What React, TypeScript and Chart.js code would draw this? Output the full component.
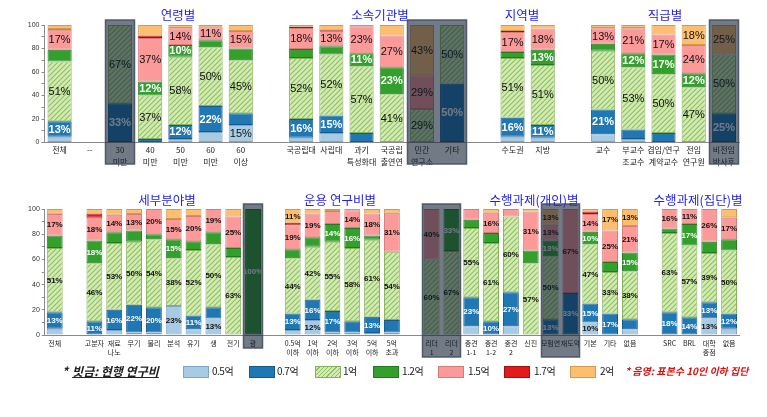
import React, { useEffect, useRef } from "react";
import { Chart, registerables } from "chart.js";
Chart.register(...registerables);

// ---------- series ----------
const seriesNames = ["0.5억", "0.7억", "1억", "1.2억", "1.5억", "1.7억", "2억"];
const seriesColors = ["#a6cbe3", "#1f78b4", "hatch", "#33a02c", "#fb9a99", "#e31a1c", "#fdbf6f"];
const seriesBorders = ["#7ea6c4", "#17598a", "#86b35a", "#237a20", "#d77b7a", "#a01010", "#d39a4e"];
const labelColors = ["#111", "#fff", "#111", "#fff", "#111", "#fff", "#111"];

// ---------- top panel ----------
const topCats: (string | string[])[] = [
  "전체", "--", ["30", "미만"], ["40", "미만"], ["50", "미만"], ["60", "미만"], ["60", "이상"], "",
  "국공립대", "사립대", ["과기", "특성화대"], ["국공립", "출연연"], ["민간", "연구소"], "기타", "",
  "수도권", "지방", "",
  "교수", ["부교수", "조교수"], ["겸임/연구", "계약교수"], ["전임", "연구원"], ["비전임", "박사후"],
];
const top05 = [5, null, 0, 0, 3, 9, 15, null, 4, 8, 0, 0, 0, 0, null, 5, 4, null, 7, 3, 0, 0, 0];
const top07 = [13, null, 33.3, 3, 12, 22, 10, null, 16, 15, 8, 0, 0, 50, null, 16, 11, null, 21, 8, 8, 0, 25];
const top10 = [51, null, 66.7, 37, 58, 50, 45, null, 52, 52, 57, 41, 28.6, 50, null, 51, 51, null, 50, 53, 50, 47, 50];
const top12 = [10, null, 0, 12, 10, 6, 10, null, 7.5, 7, 11, 23, 0, 0, null, 5, 13, null, 6, 12, 17, 12, 0];
const top15 = [17, null, 0, 37, 14, 11, 15, null, 18, 13, 23, 27, 28.6, 0, null, 17, 18, null, 13, 21, 17, 24, 0];
const top17 = [0.5, null, 0, 2, 0.5, 0.5, 0, null, 1, 0.5, 0, 0, 0, 0, null, 1, 0, null, 0.5, 0.5, 0, 0, 0];
const top20 = [3.5, null, 0, 9, 2.5, 1.5, 5, null, 1.5, 4.5, 1, 9, 42.8, 0, null, 5, 3, null, 2.5, 2.5, 8, 17, 25];

const _ = null;
const topLbl05 = [_, _, _, _, _, _, 15, _, _, _, _, _, _, _, _, _, _, _, _, _, _, _, _];
const topLbl07 = [13, _, 33, _, 12, 22, _, _, 16, 15, _, _, _, 50, _, 16, 11, _, 21, _, _, _, 25];
const topLbl10 = [51, _, 67, 37, 58, 50, 45, _, 52, 52, 57, 41, 29, 50, _, 51, 51, _, 50, 53, 50, 47, 50];
const topLbl12 = [_, _, _, 12, 10, _, _, _, _, _, 11, 23, _, _, _, _, 13, _, _, 12, 17, 12, _];
const topLbl15 = [17, _, _, 37, 14, 11, 15, _, 18, 13, 23, 27, 29, _, _, 17, 18, _, 13, 21, 17, 24, _];
const topLbl17 = [_, _, _, _, _, _, _, _, _, _, _, _, _, _, _, _, _, _, _, _, _, _, _];
const topLbl20 = [_, _, _, _, _, _, _, _, _, _, _, _, 43, _, _, _, _, _, _, _, _, 18, 25];

// small-sample (shaded) category index ranges
const topShaded = [[2, 2], [12, 13], [22, 22]];

// ---------- bottom panel ----------
const botCats: (string | string[])[] = [
  "전체", "", "고분자", ["재료", "나노"], "무기", "물리", "분석", "유기", "생", "전기", "광", "",
  ["0.5억", "이하"], ["1억", "이하"], ["2억", "이하"], ["3억", "이하"], ["5억", "이하"], ["5억", "초과"], "",
  ["리더", "1"], ["리더", "2"], ["중견", "1-1"], ["중견", "1-2"], ["중견", "2"], "신진", "모험연", "재도약", "기본", "기타", "없음", "",
  "SRC", "BRL", ["대학", "중점"], "없음",
];
const bot05 = [5, null, 0, 4, 2, 2, 23, 4.5, 13, 0, 0, null, 4, 12, 2, 2, 1.5, 2, null, 0, 0, 7, 0, 7, 0, 0, 0, 10, 0, 4.5, null, 0, 0, 13, 5];
const bot07 = [13, null, 11, 16, 22, 20, 0, 11, 9, 0, 0, null, 13, 16, 17, 9, 13, 10, null, 0, 0, 23, 11, 27, 0, 12.5, 33.3, 15, 17, 8, null, 18, 14, 13, 12];
const bot10 = [51, null, 46, 53, 50, 54, 38, 52, 50, 62, 0, null, 44, 42, 55, 58, 61, 54, null, 60, 66.7, 55, 62, 60, 57, 50, 0, 47, 33, 38, null, 63, 57, 39, 50];
const bot12 = [10, null, 18, 8.5, 9, 4, 15, 7, 9.5, 7, 100, null, 7, 7.5, 14, 16, 3.5, 0, null, 0, 33.3, 6.5, 8, 0, 10, 12.5, 0, 10, 8, 15, null, 3.5, 17, 9, 9];
const bot15 = [17, null, 18, 14, 13, 20, 16, 20, 18.5, 25, 0, null, 19, 19, 10.5, 14, 17.5, 31, null, 40, 0, 8.5, 16, 6, 31, 12.5, 66.7, 14, 25, 21, null, 15.5, 12, 26, 17];
const bot17 = [0.5, null, 3.5, 0, 0, 0, 0, 0, 0, 0, 0, null, 2, 0, 0, 0, 0, 0, null, 0, 0, 0, 0, 0, 0, 0, 0, 2, 0, 0, null, 0, 0, 0, 0.5];
const bot20 = [3.5, null, 3.5, 4.5, 4, 0, 8, 5.5, 0, 6, 0, null, 11, 3.5, 1.5, 1, 3.5, 3, null, 0, 0, 0, 3, 0, 2, 12.5, 0, 2, 17, 13.5, null, 0, 0, 0, 6.5];

const botLbl05 = [_, _, _, _, _, _, 23, _, 13, _, _, _, _, 12, _, _, _, _, _, _, _, _, _, _, _, _, _, 10, _, _, _, _, _, 13, _];
const botLbl07 = [13, _, 11, 16, 22, 20, _, 11, _, _, _, _, 13, 16, 17, _, 13, _, _, _, _, 23, 10, 27, _, 13, 33, 15, 17, _, _, 18, 14, 13, 12];
const botLbl10 = [51, _, 46, 53, 50, 54, 38, 52, 50, 63, _, _, 44, 42, 55, 58, 61, 54, _, 60, 67, 55, 61, 60, 57, 50, _, 47, 33, 38, _, 63, 57, 39, 50];
const botLbl12 = [_, _, 18, _, _, _, 15, _, _, _, 100, _, _, _, 14, 16, _, _, _, _, 33, _, _, _, _, 13, _, 10, _, 15, _, _, 17, _, _];
const botLbl15 = [17, _, 18, 14, 13, 20, 15, 20, 19, 25, _, _, 19, 19, _, 14, 18, 31, _, 40, _, _, 16, _, 31, 13, 67, 14, 25, 21, _, 16, 11, 26, 17];
const botLbl17 = [_, _, _, _, _, _, _, _, _, _, _, _, _, _, _, _, _, _, _, _, _, _, _, _, _, _, _, _, _, _, _, _, _, _, _];
const botLbl20 = [_, _, _, _, _, _, _, _, _, _, _, _, 11, _, _, _, _, _, _, _, _, _, _, _, _, 13, _, _, 17, 13, _, _, _, _, _];

const botShaded = [[10, 10], [19, 20], [25, 26]];

// ---------- helpers ----------
function makeHatch(): CanvasPattern | string {
  const c = document.createElement("canvas");
  c.width = 5;
  c.height = 5;
  const g = c.getContext("2d");
  if (!g) return "#c8e3a4";
  g.fillStyle = "#d3eab6";
  g.fillRect(0, 0, 5, 5);
  g.strokeStyle = "#8fc05c";
  g.lineWidth = 1.1;
  g.beginPath();
  g.moveTo(0, 5);
  g.lineTo(5, 0);
  g.moveTo(-1, 1);
  g.lineTo(1, -1);
  g.moveTo(4, 6);
  g.lineTo(6, 4);
  g.stroke();
  return g.createPattern(c, "repeat") || "#c8e3a4";
}

type PanelCfg = {
  cats: (string | string[])[];
  values: (number | null)[][];
  labels: (number | null)[][];
  shaded: number[][];
  shadeBottoms: number[];
  height: number;
  padTop: number;
  padRight: number;
  yWidth: number;
  xHeight: number;
  xFont: number;
  xLine: number;
  xPad: number;
  lblFont: number;
  lblBoldAll: boolean;
};

function Panel({ cfg, top }: { cfg: PanelCfg; top: number }) {
  const ref = useRef<HTMLCanvasElement | null>(null);
  useEffect(() => {
    if (!ref.current) return;
    const hatch = makeHatch();
    const labelPlugin = {
      id: "segLabels",
      afterDatasetsDraw(chart: any) {
        const ctx = chart.ctx;
        ctx.save();
        ctx.textAlign = "center";
        ctx.textBaseline = "middle";
        chart.data.datasets.forEach((_ds: any, i: number) => {
          const meta = chart.getDatasetMeta(i);
          meta.data.forEach((el: any, j: number) => {
            const v = cfg.labels[i][j];
            if (v === null || v === undefined) return;
            const white = labelColors[i] === "#fff";
            ctx.font = `${cfg.lblBoldAll || white ? "bold " : ""}${cfg.lblFont}px "Liberation Sans", Arial, sans-serif`;
            ctx.fillStyle = labelColors[i];
            ctx.fillText(v + "%", el.x, (el.y + el.base) / 2 + 0.5);
          });
        });
        ctx.restore();
      },
    };
    const shadePlugin = {
      id: "shade",
      afterDraw(chart: any) {
        const ctx = chart.ctx;
        const xs = chart.scales.x;
        const half = (xs.getPixelForValue(1) - xs.getPixelForValue(0)) / 2;
        const y0 = chart.chartArea.top - 5;
        ctx.save();
        cfg.shaded.forEach((r, k) => {
          const x0 = Math.round(xs.getPixelForValue(r[0]) - half) + 0.5;
          const x1 = Math.round(xs.getPixelForValue(r[1]) + half) - 0.5;
          const y1 = cfg.shadeBottoms[k];
          ctx.fillStyle = "rgba(12,26,47,0.58)";
          ctx.fillRect(x0, y0, x1 - x0, y1 - y0);
          ctx.strokeStyle = "rgba(70,80,95,0.9)";
          ctx.lineWidth = 1.5;
          ctx.strokeRect(x0, y0, x1 - x0, y1 - y0);
        });
        ctx.restore();
      },
    };
    const chart = new Chart(ref.current, {
      type: "bar",
      data: {
        labels: cfg.cats as any,
        datasets: cfg.values.map((d, i) => ({
          label: seriesNames[i],
          data: d as any,
          backgroundColor: (seriesColors[i] === "hatch" ? hatch : seriesColors[i]) as any,
          borderColor: seriesBorders[i],
          borderWidth: 1,
          borderSkipped: false,
          barPercentage: 0.8,
          categoryPercentage: 1,
        })),
      },
      options: {
        responsive: false,
        animation: false,
        events: [],
        layout: { padding: { top: cfg.padTop, right: cfg.padRight, left: 0, bottom: 0 } },
        plugins: { legend: { display: false }, tooltip: { enabled: false } },
        scales: {
          x: {
            stacked: true,
            grid: { drawOnChartArea: false, drawTicks: false },
            border: { display: true, color: "#8a8a8a", width: 1 },
            ticks: {
              autoSkip: false,
              maxRotation: 0,
              minRotation: 0,
              padding: cfg.xPad,
              color: "#222",
              font: { family: '"Noto Sans CJK KR", sans-serif', size: cfg.xFont, lineHeight: cfg.xLine },
            },
            afterFit: (s: any) => {
              s.height = cfg.xHeight;
            },
          },
          y: {
            stacked: true,
            min: 0,
            max: 100,
            grid: { drawOnChartArea: false, drawTicks: true, tickLength: 3, color: "#8a8a8a" },
            border: { display: true, color: "#8a8a8a", width: 1 },
            ticks: {
              stepSize: 10,
              autoSkip: false,
              padding: 2,
              color: "#333",
              font: { family: '"Liberation Sans", Arial, sans-serif', size: 7 },
              callback: (v: any) => (Number(v) % 20 === 0 ? String(v) : ""),
            },
            afterFit: (s: any) => {
              s.width = cfg.yWidth;
            },
          },
        },
      },
      plugins: [labelPlugin, shadePlugin],
    });
    return () => chart.destroy();
  }, []);
  return (
    <canvas
      ref={ref}
      width={767}
      height={cfg.height}
      style={{ position: "absolute", left: 0, top, width: 767, height: cfg.height, display: "block" }}
    />
  );
}

const topCfg: PanelCfg = {
  cats: topCats,
  values: [top05, top07, top10, top12, top15, top17, top20],
  labels: [topLbl05, topLbl07, topLbl10, topLbl12, topLbl15, topLbl17, topLbl20],
  shaded: topShaded,
  shadeBottoms: [164, 164, 164],
  height: 170,
  padTop: 25,
  padRight: 28,
  yWidth: 44.5,
  xHeight: 27.5,
  xFont: 8,
  xLine: 1.5,
  xPad: 1,
  lblFont: 11,
  lblBoldAll: false,
};

const botCfg: PanelCfg = {
  cats: botCats,
  values: [bot05, bot07, bot10, bot12, bot15, bot17, bot20],
  labels: [botLbl05, botLbl07, botLbl10, botLbl12, botLbl15, botLbl17, botLbl20],
  shaded: botShaded,
  shadeBottoms: [168, 177, 177],
  height: 185,
  padTop: 29,
  padRight: 28,
  yWidth: 44.8,
  xHeight: 30,
  xFont: 7,
  xLine: 1.4,
  xPad: 3,
  lblFont: 8,
  lblBoldAll: true,
};

const titleStyle: React.CSSProperties = {
  position: "absolute",
  transform: "translate(-50%, -50%)",
  whiteSpace: "nowrap",
  color: "#1f1fe6",
  fontFamily: '"Noto Sans CJK KR", sans-serif',
  fontSize: 12.5,
  lineHeight: 1,
};

const titles: [string, number, number][] = [
  ["연령별", 178, 15],
  ["소속기관별", 380, 15],
  ["지역별", 522, 15],
  ["직급별", 665, 15],
  ["세부분야별", 167, 200],
  ["운용 연구비별", 340, 200],
  ["수행과제(개인)별", 534, 200],
  ["수행과제(집단)별", 698, 200],
];

const legendBoxX = [183, 249, 315, 373, 438, 504, 570];
const legendTextX = [212, 277, 343, 402, 468, 534, 600];

export default function App() {
  const hatchCss =
    "repeating-linear-gradient(135deg, #d3eab6 0px, #d3eab6 2px, #8fc05c 2px, #8fc05c 3px)";
  return (
    <div style={{ position: "absolute", left: 0, top: 0, width: 767, height: 417, background: "#fff", overflow: "hidden" }}>
      <Panel cfg={topCfg} top={0} />
      <Panel cfg={botCfg} top={180} />
      {titles.map(([t, x, y]) => (
        <div key={t} style={{ ...titleStyle, left: x, top: y }}>
          {t}
        </div>
      ))}
      <div
        style={{
          position: "absolute",
          left: 62,
          top: 364,
          fontFamily: '"Noto Sans CJK KR", sans-serif',
          fontSize: 12,
          fontStyle: "italic",
          fontWeight: 600,
          color: "#222",
          whiteSpace: "nowrap",
          lineHeight: "14px",
        }}
      >
        <span style={{ marginRight: 4 }}>*</span>
        <span style={{ textDecoration: "underline" }}>빗금: 현행 연구비</span>
      </div>
      {seriesNames.map((n, i) => (
        <React.Fragment key={n}>
          <div
            style={{
              position: "absolute",
              left: legendBoxX[i],
              top: 366,
              width: 24,
              height: 10,
              background: seriesColors[i] === "hatch" ? hatchCss : seriesColors[i],
              border: `1px solid ${seriesBorders[i]}`,
            }}
          />
          <div
            style={{
              position: "absolute",
              left: legendTextX[i],
              top: 364,
              fontFamily: '"Noto Sans CJK KR", sans-serif',
              fontSize: 10,
              letterSpacing: -0.5,
              color: "#222",
              whiteSpace: "nowrap",
              lineHeight: "14px",
            }}
          >
            {n}
          </div>
        </React.Fragment>
      ))}
      <div
        style={{
          position: "absolute",
          left: 625,
          top: 364,
          fontFamily: '"Noto Sans CJK KR", sans-serif',
          fontSize: 10,
          fontStyle: "italic",
          fontWeight: 700,
          color: "#e01010",
          whiteSpace: "nowrap",
          lineHeight: "14px",
        }}
      >
        * 음영: 표본수 10인 이하 집단
      </div>
    </div>
  );
}
